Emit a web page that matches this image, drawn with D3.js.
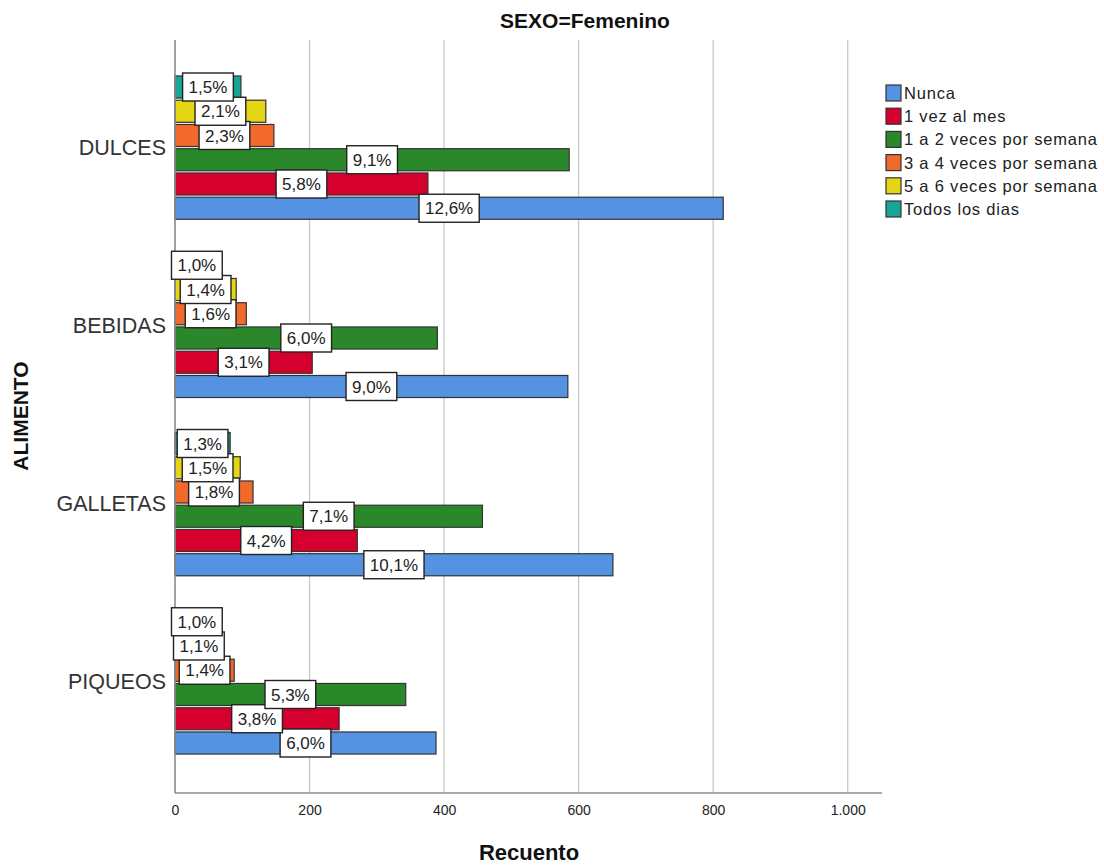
<!DOCTYPE html>
<html>
<head>
<meta charset="utf-8">
<script src="https://cdn.jsdelivr.net/npm/d3@7"></script>
<style>
  body { margin: 0; background: #fff; }
  svg { display: block; font-family: "Liberation Sans", Arial, sans-serif; }
</style>
</head>
<body>
<svg id="chart" width="1104" height="865"></svg>
<script>
const categories = ["DULCES", "BEBIDAS", "GALLETAS", "PIQUEOS"];
const seriesNames = ["Nunca", "1 vez al mes", "1 a 2 veces por semana", "3 a 4 veces por semana", "5 a 6 veces por semana", "Todos los dias"];
const seriesColors = ["#5593E2", "#D5002E", "#2A882A", "#F26A2B", "#E4D515", "#18A696"];

const nunca       = [815, 584, 651, 388];
const unaVezMes   = [376, 204, 271, 244];
const unoADos     = [586, 390, 457, 343];
const tresACuatro = [147, 106, 116, 88];
const cincoASeis  = [135, 91, 97, 71];
const todosDias   = [98, 65, 82, 65];

const pctNunca       = ["12,6%", "9,0%", "10,1%", "6,0%"];
const pctUnaVezMes   = ["5,8%", "3,1%", "4,2%", "3,8%"];
const pctUnoADos     = ["9,1%", "6,0%", "7,1%", "5,3%"];
const pctTresACuatro = ["2,3%", "1,6%", "1,8%", "1,4%"];
const pctCincoASeis  = ["2,1%", "1,4%", "1,5%", "1,1%"];
const pctTodosDias   = ["1,5%", "1,0%", "1,3%", "1,0%"];

const xTicks = [0, 200, 400, 600, 800, 1000];
const xTickLabels = ["0", "200", "400", "600", "800", "1.000"];

const seriesValues = [nunca, unaVezMes, unoADos, tresACuatro, cincoASeis, todosDias];
const seriesPcts = [pctNunca, pctUnaVezMes, pctUnoADos, pctTresACuatro, pctCincoASeis, pctTodosDias];

const data = [];
categories.forEach((c, ci) => {
  seriesNames.forEach((s, si) => {
    data.push({ cat: c, series: s, si: si, value: seriesValues[si][ci], pct: seriesPcts[si][ci] });
  });
});

const svg = d3.select("#chart");
const plotLeft = 175, plotRight = 882, plotTop = 40, plotBottom = 793;

const x = d3.scaleLinear().domain([0, 1051]).range([plotLeft, plotRight]);
const y = d3.scaleBand().domain(categories).range([58.5, 771.5]).paddingInner(0.196).paddingOuter(0.098);
const yInner = d3.scaleBand().domain(seriesNames.slice().reverse()).range([0, y.bandwidth()]).paddingInner(0.09);
const color = d3.scaleOrdinal().domain(seriesNames).range(seriesColors);

// grid lines
svg.append("g").selectAll("line")
  .data(xTicks.filter(d => d > 0))
  .join("line")
  .attr("x1", d => x(d)).attr("x2", d => x(d))
  .attr("y1", plotTop).attr("y2", plotBottom)
  .attr("stroke", "#c8c8c8").attr("stroke-width", 1.3);

// x axis
const xAxis = d3.axisBottom(x).tickValues(xTicks).tickFormat((d, i) => xTickLabels[i]).tickSize(0).tickPadding(12);
const gx = svg.append("g").attr("transform", `translate(0,${plotBottom})`).call(xAxis);
gx.select(".domain").remove();
gx.selectAll("text").attr("fill", "#222").attr("font-family", "'Liberation Sans Narrow', 'Liberation Sans', Arial, sans-serif").style("font-size", "14px");

// y axis labels
const yAxis = d3.axisLeft(y).tickSize(0).tickPadding(9);
const gy = svg.append("g").attr("transform", `translate(${plotLeft},0)`).call(yAxis);
gy.select(".domain").remove();
gy.selectAll("text").attr("font-size", 21.5).attr("fill", "#333").attr("dy", "0.32em");

// bars
svg.append("g").selectAll("rect")
  .data(data)
  .join("rect")
  .attr("x", x(0))
  .attr("y", d => y(d.cat) + yInner(d.series))
  .attr("width", d => x(d.value) - x(0))
  .attr("height", yInner.bandwidth())
  .attr("fill", d => color(d.series))
  .attr("stroke", "#333")
  .attr("stroke-width", 1.2);

// axis lines
svg.append("line").attr("x1", plotLeft).attr("x2", plotLeft).attr("y1", plotTop).attr("y2", plotBottom)
  .attr("stroke", "#8c8c8c").attr("stroke-width", 1.6);
svg.append("line").attr("x1", plotLeft).attr("x2", plotRight).attr("y1", plotBottom).attr("y2", plotBottom)
  .attr("stroke", "#8c8c8c").attr("stroke-width", 1.6);

// labels
const lab = svg.append("g").selectAll("g")
  .data(data)
  .join("g")
  .attr("transform", d => `translate(${(x(0) + x(d.value)) / 2},${y(d.cat) + yInner(d.series) + yInner.bandwidth() / 2})`);
lab.append("rect");
lab.append("text")
  .text(d => d.pct)
  .attr("text-anchor", "middle")
  .attr("dy", "0.36em")
  .attr("font-size", 17)
  .attr("fill", "#222");
lab.each(function() {
  const g = d3.select(this);
  const w = g.select("text").node().getComputedTextLength();
  g.select("rect")
    .attr("x", -w / 2 - 6).attr("y", -14)
    .attr("width", w + 12).attr("height", 28)
    .attr("fill", "#fff").attr("stroke", "#222").attr("stroke-width", 1.4);
});

// title
svg.append("text").attr("x", 585).attr("y", 28).attr("text-anchor", "middle")
  .attr("font-size", 21).attr("font-weight", "bold").attr("fill", "#111").text("SEXO=Femenino");

// axis titles
svg.append("text").attr("x", 529).attr("y", 860).attr("text-anchor", "middle")
  .attr("font-size", 22).attr("font-weight", "bold").attr("fill", "#111").text("Recuento");
svg.append("text").attr("transform", "translate(28,416) rotate(-90)").attr("text-anchor", "middle")
  .attr("font-size", 21).attr("font-weight", "bold").attr("fill", "#111").text("ALIMENTO");

// legend
const legend = svg.append("g").attr("transform", "translate(886,85)");
const li = legend.selectAll("g").data(seriesNames).join("g")
  .attr("transform", (d, i) => `translate(0,${i * 23.2})`);
li.append("rect").attr("width", 15).attr("height", 16).attr("y", 0)
  .attr("fill", d => color(d)).attr("stroke", "#333").attr("stroke-width", 1.2);
li.append("text").attr("x", 18).attr("y", 8).attr("dy", "0.36em")
  .attr("font-size", 16.5).attr("letter-spacing", "0.8px").attr("fill", "#222").text(d => d);
</script>
</body>
</html>
